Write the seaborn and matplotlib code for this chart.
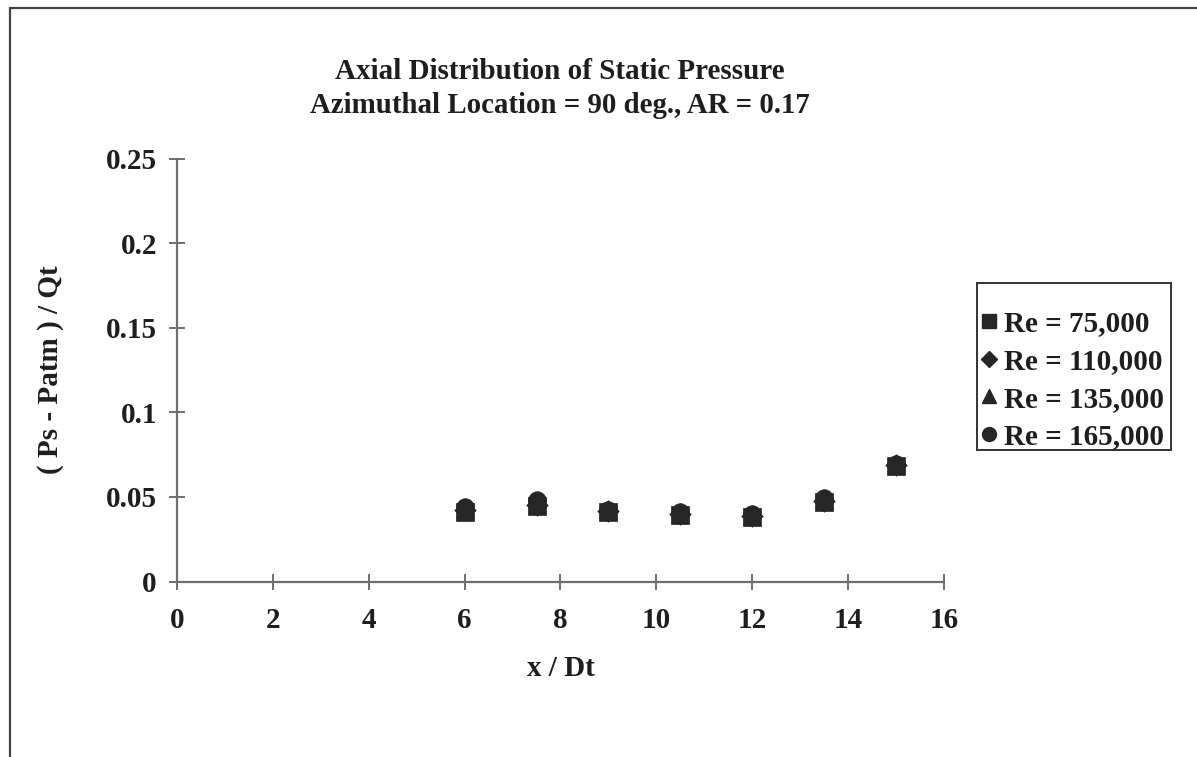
import matplotlib
matplotlib.use("Agg")
import matplotlib.pyplot as plt
from matplotlib.lines import Line2D
from matplotlib.patches import Rectangle
import seaborn as sns
import pandas as pd

# Axial stations and normalised static pressure for each Reynolds number
x_dt = [6, 7.5, 9, 10.5, 12, 13.5, 15]
re_75k = [0.0412, 0.0447, 0.0410, 0.0394, 0.0382, 0.0470, 0.0684]
re_110k = [0.0420, 0.0455, 0.0415, 0.0400, 0.0388, 0.0478, 0.0688]
re_135k = [0.0430, 0.0465, 0.0420, 0.0405, 0.0392, 0.0485, 0.0696]
re_165k = [0.0441, 0.0480, 0.0424, 0.0412, 0.0400, 0.0495, 0.0694]
series_labels = ["Re = 75,000", "Re = 110,000", "Re = 135,000", "Re = 165,000"]
x_ticks = [0, 2, 4, 6, 8, 10, 12, 14, 16]
y_ticks = [0, 0.05, 0.1, 0.15, 0.2, 0.25]
y_tick_labels = ["0", "0.05", "0.1", "0.15", "0.2", "0.25"]

frames = []
for label, vals in zip(series_labels, [re_75k, re_110k, re_135k, re_165k]):
    frames.append(pd.DataFrame({"x": x_dt, "y": vals, "series": label}))
df = pd.concat(frames, ignore_index=True)

sns.set_theme(style="white")
plt.rcParams["font.family"] = ["Liberation Serif", "DejaVu Serif"]
plt.rcParams["font.weight"] = "bold"

ink = "#1e1e1e"
axis_grey = "#6e6e6e"
W, H = 1197, 757

fig = plt.figure(figsize=(11.97, 7.57), dpi=100)
fig.patch.set_facecolor("white")
ax = fig.add_axes([0.1479, 0.2318, 0.6407, 0.5588])

markers = {series_labels[0]: "s", series_labels[1]: "D",
           series_labels[2]: "^", series_labels[3]: "o"}
sizes = {series_labels[0]: 160, series_labels[1]: 120,
         series_labels[2]: 160, series_labels[3]: 160}
for label in series_labels:
    sub = df[df["series"] == label]
    sns.scatterplot(data=sub, x="x", y="y", marker=markers[label],
                    s=sizes[label], color="#262626", edgecolor="#262626",
                    linewidth=0.5, ax=ax, label=label, legend=False, zorder=3)

ax.set_xlim(0, 16)
ax.set_ylim(0, 0.25)
ax.set_xticks(x_ticks)
ax.set_yticks(y_ticks)
ax.set_yticklabels(y_tick_labels)
for s in ["top", "right"]:
    ax.spines[s].set_visible(False)
for s in ["left", "bottom"]:
    ax.spines[s].set_color(axis_grey)
    ax.spines[s].set_linewidth(1.6)
ax.tick_params(axis="both", direction="inout", length=11, width=1.4,
               color=axis_grey, labelsize=21, labelcolor=ink,
               bottom=True, left=True)
ax.tick_params(axis="x", pad=13)
ax.tick_params(axis="y", pad=9)
for t in ax.get_xticklabels() + ax.get_yticklabels():
    t.set_fontweight("bold")

ax.set_xlabel("x / Dt", fontsize=21, fontweight="bold", color=ink, labelpad=15)
ax.set_ylabel("( Ps - Patm ) / Qt", fontsize=21, fontweight="bold", color=ink, labelpad=30)

fig.text(0.468, 0.905, "Axial Distribution of Static Pressure", ha="center",
         va="center", fontsize=21, fontweight="bold", color=ink)
fig.text(0.468, 0.860, "Azimuthal Location = 90 deg., AR = 0.17", ha="center",
         va="center", fontsize=20.8, fontweight="bold", color=ink)

# legend entries, with the surrounding box drawn separately
handles = [Line2D([], [], linestyle="none", marker=markers[l], color="#262626",
                  markersize=ms, label=l)
           for l, ms in zip(series_labels, [10, 8, 10, 10])]
leg = fig.legend(handles=handles, loc="upper left",
                 bbox_to_anchor=(982 / W, 1 - 310 / H),
                 frameon=False, handlelength=0.5,
                 handletextpad=0.25, borderpad=0.0, borderaxespad=0.0,
                 labelspacing=0.37,
                 prop={"family": "Liberation Serif", "weight": "bold", "size": 21})
for t in leg.get_texts():
    t.set_color(ink)
fig.add_artist(Rectangle((977 / W, 1 - 450 / H), 194 / W, 167 / H,
                         transform=fig.transFigure, fill=False,
                         edgecolor="#333333", linewidth=1.4))

# page border lines along the top and left edge
fig.add_artist(Line2D([10 / W, 1.0], [1 - 8 / H, 1 - 8 / H],
                      color="#444444", linewidth=1.6, transform=fig.transFigure))
fig.add_artist(Line2D([10 / W, 10 / W], [0.0, 1 - 8 / H],
                      color="#444444", linewidth=1.6, transform=fig.transFigure))

fig.savefig("out.png", dpi=100, facecolor="white")
